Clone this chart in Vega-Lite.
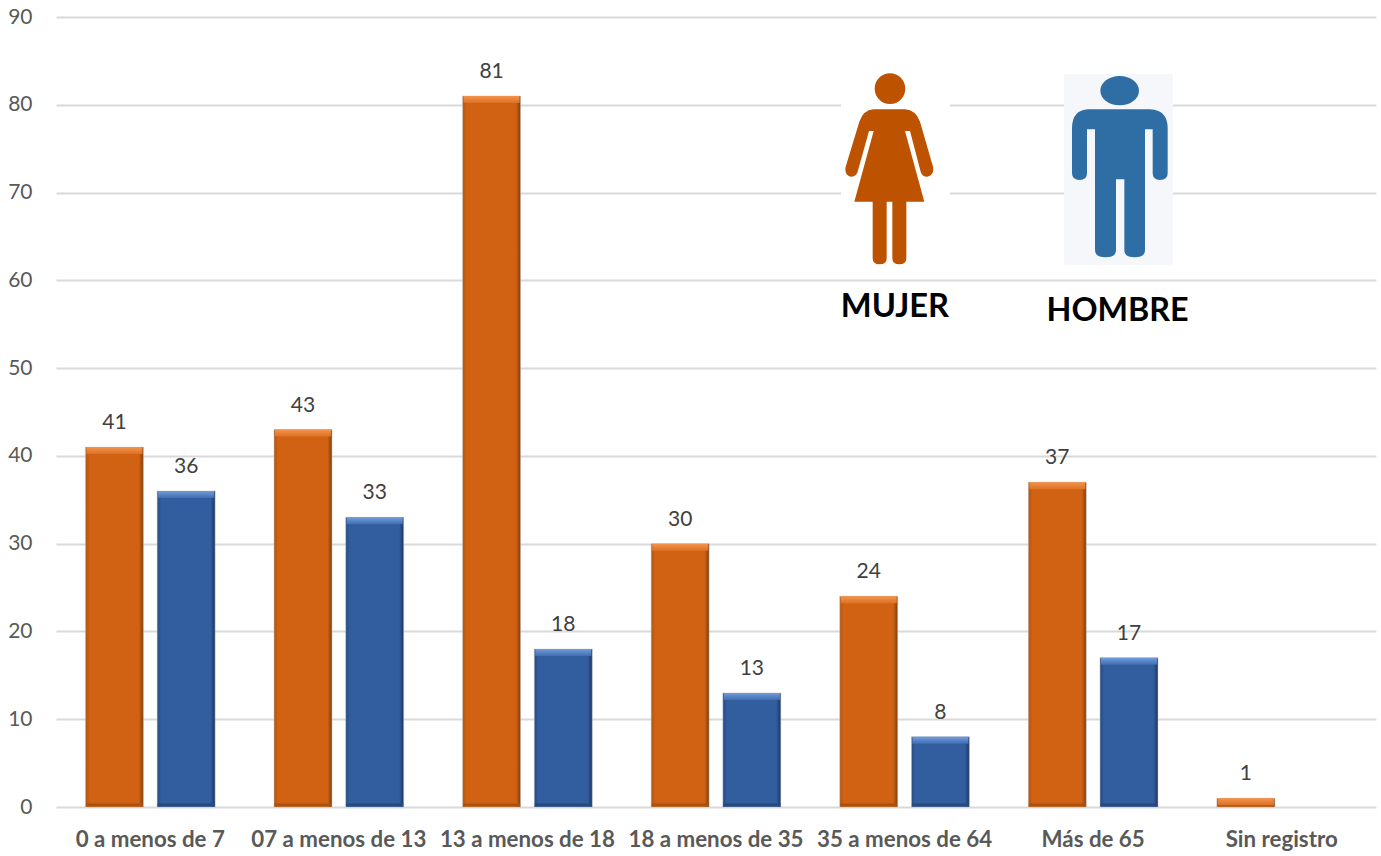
{
"$schema":"https://vega.github.io/schema/vega-lite/v6.json",
"width":1320,"height":790,
"autosize":"none",
"padding":{"left":56,"top":17,"right":5,"bottom":49},
"background":"white",
"config":{"view":{"stroke":null},"font":"Lato"},
"datasets":{
"barras":[
{"grupo":"0 a menos de 7","sexo":"Mujer","valor":41},
{"grupo":"0 a menos de 7","sexo":"Hombre","valor":36},
{"grupo":"07 a menos de 13","sexo":"Mujer","valor":43},
{"grupo":"07 a menos de 13","sexo":"Hombre","valor":33},
{"grupo":"13 a menos de 18","sexo":"Mujer","valor":81},
{"grupo":"13 a menos de 18","sexo":"Hombre","valor":18},
{"grupo":"18 a menos de 35","sexo":"Mujer","valor":30},
{"grupo":"18 a menos de 35","sexo":"Hombre","valor":13},
{"grupo":"35 a menos de 64","sexo":"Mujer","valor":24},
{"grupo":"35 a menos de 64","sexo":"Hombre","valor":8},
{"grupo":"Más de 65","sexo":"Mujer","valor":37},
{"grupo":"Más de 65","sexo":"Hombre","valor":17},
{"grupo":"Sin registro","sexo":"Mujer","valor":1}
],
"iconos":[
{"grupo":"35 a menos de 64","icono":"MUJER","valor":72.57},
{"grupo":"Más de 65","icono":"HOMBRE","valor":72.57}
],
"rotulos":[
{"grupo":"35 a menos de 64","icono":"MUJER","valor":57.0},
{"grupo":"Más de 65","icono":"HOMBRE","valor":56.5}
]
},
"encoding":{
"x":{"field":"grupo","type":"nominal","sort":["0 a menos de 7","07 a menos de 13","13 a menos de 18","18 a menos de 35","35 a menos de 64","Más de 65","Sin registro"],
"scale":{"domain":["0 a menos de 7","07 a menos de 13","13 a menos de 18","18 a menos de 35","35 a menos de 64","Más de 65","Sin registro"],"paddingInner":0,"paddingOuter":0},
"axis":{"title":null,"labelAngle":0,"domain":false,"ticks":false,"labelFontSize":22.3,"labelFontWeight":"bold","labelColor":"#595959","labelPadding":21,"labelOverlap":false,"labelFont":"Lato","labelLimit":200,"grid":false}},
"y":{"field":"valor","type":"quantitative","scale":{"domain":[0,90],"nice":false},
"axis":{"title":null,"values":[0,10,20,30,40,50,60,70,80,90],"domain":false,"ticks":false,"labelFontSize":21,"labelColor":"#595959","labelPadding":24,"grid":true,"gridColor":"#d9d9d9","gridWidth":2,"labelFont":"Lato"}}
},
"layer":[
{"data":{"name":"iconos"},"transform":[{"filter":"datum.icono==='MUJER'"}],
"mark":{"type":"point","filled":true,"opacity":1,"size":0.4444,"xOffset":-7.9,"color":"#ffffff","shape":"M-167,-288 H160 V284 H-167 Z"}},
{"data":{"name":"iconos"},"transform":[{"filter":"datum.icono==='HOMBRE'"}],
"mark":{"type":"point","filled":true,"opacity":1,"size":0.4444,"xOffset":25.2,"color":"#f5f7fb","shape":"M-163,-288 H164 V284 H-163 Z"}},
{"data":{"name":"iconos"},"transform":[{"filter":"datum.icono==='MUJER'"}],
"mark":{"type":"point","filled":true,"opacity":1,"size":0.4444,"xOffset":-7.9,"color":"#bd5200","shape":"M-70,-182 L25,-182 Q57,-180 70,-145 L109,-10 Q114,15 92,20 Q76,20 72,5 L40,-117 L25,-117 L83,95 L29,95 L29,265 Q29,283 8,283 Q-13,283 -13,265 L-13,95 L-30,95 L-30,265 Q-30,283 -51,283 Q-72,283 -72,265 L-72,95 L-127,95 L-69,-117 L-83,-117 L-117,5 Q-122,20 -138,20 Q-158,15 -153,-10 L-112,-145 Q-100,-180 -70,-182 Z M-66,-244 A46,46 0 1 0 26,-244 A46,46 0 1 0 -66,-244 Z"}},
{"data":{"name":"iconos"},"transform":[{"filter":"datum.icono==='HOMBRE'"}],
"mark":{"type":"point","filled":true,"opacity":1,"size":0.4444,"xOffset":25.2,"color":"#2e6ea5","shape":"M-90,-182 L95,-182 Q148,-180 148,-125 L148,10 Q148,30 125,30 Q103,30 103,10 L103,-122 L80,-122 L80,240 Q80,262 49,262 Q18,262 18,240 L18,28 L-7,28 L-7,240 Q-7,262 -38,262 Q-70,262 -70,240 L-70,-122 L-94,-122 L-94,10 Q-94,30 -116,30 Q-139,30 -139,10 L-139,-125 Q-139,-180 -90,-182 Z M-54,-238 A58,44 0 1 0 62,-238 A58,44 0 1 0 -54,-238 Z"}},
{"data":{"name":"rotulos"},"transform":[{"filter":"datum.icono==='MUJER'"}],
"mark":{"type":"text","font":"Lato","fontWeight":"bold","fontSize":32.7,"color":"#000000","baseline":"middle","align":"center","xOffset":-9.6},
"encoding":{"text":{"field":"icono"}}},
{"data":{"name":"rotulos"},"transform":[{"filter":"datum.icono==='HOMBRE'"}],
"mark":{"type":"text","font":"Lato","fontWeight":"bold","fontSize":32.3,"color":"#000000","baseline":"middle","align":"center","xOffset":24.4},
"encoding":{"text":{"field":"icono"}}},
{"data":{"name":"barras"},"transform":[{"filter":"datum.sexo==='Mujer'"}],
"mark":{"type":"bar","width":58,"stroke":"#c9c9c9","strokeWidth":0.5,"color":{"gradient":"linear","x1":0,"x2":1,"y1":0,"y2":0,"stops":[{"offset":0,"color":"#b05512"},{"offset":0.07,"color":"#d16213"},{"offset":0.92,"color":"#d16213"},{"offset":1,"color":"#7d3d0d"}]}},
"encoding":{"xOffset":{"field":"sexo","type":"nominal","scale":{"domain":["Mujer","Hombre"],"paddingInner":0.19,"paddingOuter":0.41}}}},
{"data":{"name":"barras"},"transform":[{"filter":"datum.sexo==='Hombre'"}],
"mark":{"type":"bar","width":58,"stroke":"#c9c9c9","strokeWidth":0.5,"color":{"gradient":"linear","x1":0,"x2":1,"y1":0,"y2":0,"stops":[{"offset":0,"color":"#264a80"},{"offset":0.07,"color":"#325e9f"},{"offset":0.92,"color":"#325e9f"},{"offset":1,"color":"#1a3560"}]}},
"encoding":{"xOffset":{"field":"sexo","type":"nominal","scale":{"domain":["Mujer","Hombre"],"paddingInner":0.19,"paddingOuter":0.41}}}},
{"data":{"name":"barras"},"transform":[{"filter":"datum.sexo==='Mujer'"}],
"mark":{"type":"tick","thickness":3,"size":57,"yOffset":-2,"opacity":1,"color":"#a8520f"},
"encoding":{"y":{"datum":0},"xOffset":{"field":"sexo","type":"nominal","scale":{"domain":["Mujer","Hombre"],"paddingInner":0.19,"paddingOuter":0.41}}}},
{"data":{"name":"barras"},"transform":[{"filter":"datum.sexo==='Hombre'"}],
"mark":{"type":"tick","thickness":3,"size":57,"yOffset":-2,"opacity":1,"color":"#27497e"},
"encoding":{"y":{"datum":0},"xOffset":{"field":"sexo","type":"nominal","scale":{"domain":["Mujer","Hombre"],"paddingInner":0.19,"paddingOuter":0.41}}}},
{"data":{"name":"barras"},"transform":[{"filter":"datum.sexo==='Mujer'"}],
"mark":{"type":"tick","thickness":7,"size":56,"yOffset":3.5,"opacity":1,"color":{"gradient":"linear","x1":0,"x2":0,"y1":0,"y2":1,"stops":[{"offset":0,"color":"#f4934d"},{"offset":1,"color":"#dc7122"}]}},
"encoding":{"xOffset":{"field":"sexo","type":"nominal","scale":{"domain":["Mujer","Hombre"],"paddingInner":0.19,"paddingOuter":0.41}}}},
{"data":{"name":"barras"},"transform":[{"filter":"datum.sexo==='Hombre'"}],
"mark":{"type":"tick","thickness":7,"size":56,"yOffset":3.5,"opacity":1,"color":{"gradient":"linear","x1":0,"x2":0,"y1":0,"y2":1,"stops":[{"offset":0,"color":"#729cdc"},{"offset":1,"color":"#406eb1"}]}},
"encoding":{"xOffset":{"field":"sexo","type":"nominal","scale":{"domain":["Mujer","Hombre"],"paddingInner":0.19,"paddingOuter":0.41}}}},
{"data":{"name":"barras"},
"mark":{"type":"text","font":"Lato","fontSize":21,"color":"#404040","baseline":"middle","align":"center","dy":-24},
"encoding":{"text":{"field":"valor","type":"quantitative"},"xOffset":{"field":"sexo","type":"nominal","scale":{"domain":["Mujer","Hombre"],"paddingInner":0.19,"paddingOuter":0.41}}}}
]
}
